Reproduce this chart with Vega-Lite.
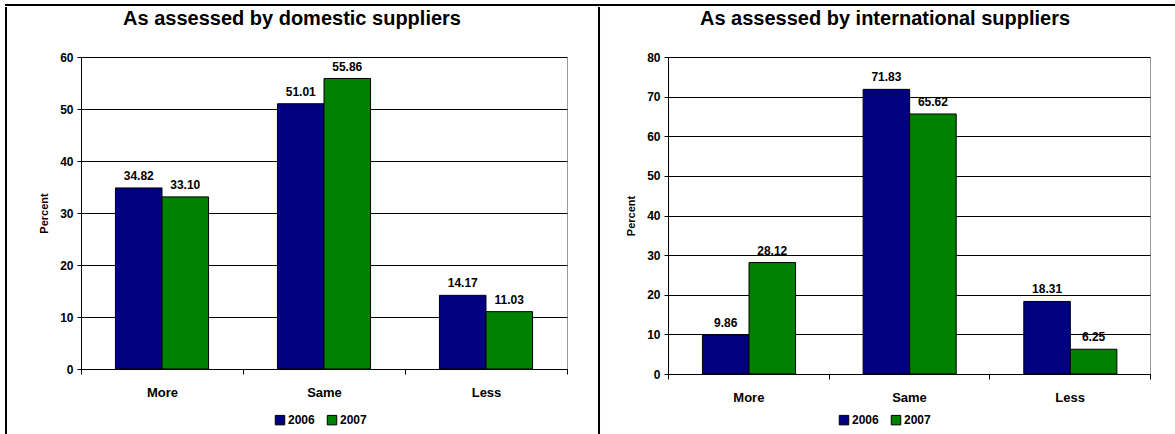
{
  "$schema": "https://vega.github.io/schema/vega-lite/v6.json",
  "padding": {"left": 5, "top": 4, "right": 0, "bottom": 0},
  "background": "white",
  "spacing": 0,
  "config": {
    "font": "Liberation Sans",
    "axis": {
      "labelFont": "Liberation Sans",
      "labelFontWeight": "bold",
      "labelColor": "black",
      "titleFont": "Liberation Sans",
      "titleFontWeight": "bold",
      "titleColor": "black",
      "titleFontSize": 11,
      "domainColor": "black",
      "tickColor": "black"
    },
    "axisY": {"labelFontSize": 12, "tickSize": 4, "labelPadding": 4, "titlePadding": 10, "gridColor": "black", "gridOpacity": 1, "gridWidth": 1},
    "axisX": {"labelFontSize": 13, "tickSize": 5, "labelPadding": 12, "labelAngle": 0, "grid": false},
    "legend": {"labelFont": "Liberation Sans", "labelFontWeight": "bold", "labelFontSize": 12, "labelColor": "black", "symbolType": "square", "symbolSize": 90, "symbolStrokeColor": "black", "symbolStrokeWidth": 1, "columnPadding": 10, "labelOffset": 2, "title": null},
    "title": {"font": "Liberation Sans", "fontSize": 20, "fontWeight": "bold", "color": "black", "anchor": "middle", "orient": "bottom", "offset": 1}
  },
  "resolve": {"scale": {"color": "independent"}},
  "vconcat": [
    {
      "data": {"values": []},
      "mark": "point",
      "width": 1170,
      "height": 0.01,
      "view": {"stroke": "black", "strokeWidth": 2}
    },
    {
      "spacing": 24,
      "resolve": {"scale": {"color": "independent"}},
      "hconcat": [
        {
          "spacing": 30,
          "resolve": {"scale": {"color": "independent"}},
          "hconcat": [
            {
              "data": {"values": []},
              "mark": "point",
              "width": 0.01,
              "height": 430,
              "view": {"stroke": "black", "strokeWidth": 2}
            },
            {
              "spacing": 20,
              "resolve": {"scale": {"color": "independent"}},
              "vconcat": [
                {
                  "title": {"text": "As assessed by domestic suppliers", "dx": -32},
                  "data": {"values": []},
                  "mark": "point",
                  "width": 486,
                  "height": 0.01,
                  "view": {"stroke": null}
                },
                {
                  "width": 486,
                  "height": 312,
                  "view": {"stroke": "#999999", "strokeWidth": 1},
                  "data": {"values": [
                    {"response": "More", "year": "2006", "percent": 34.82},
                    {"response": "More", "year": "2007", "percent": 33.10},
                    {"response": "Same", "year": "2006", "percent": 51.01},
                    {"response": "Same", "year": "2007", "percent": 55.86},
                    {"response": "Less", "year": "2006", "percent": 14.17},
                    {"response": "Less", "year": "2007", "percent": 11.03}
                  ]},
                  "encoding": {
                    "x": {"field": "response", "type": "nominal", "sort": ["More", "Same", "Less"], "scale": {"paddingInner": 0, "paddingOuter": 0}, "axis": {"title": null, "tickBand": "extent"}},
                    "xOffset": {"field": "year", "type": "nominal", "scale": {"paddingInner": 0, "paddingOuter": 0.74}},
                    "y": {"field": "percent", "type": "quantitative", "scale": {"domain": [0, 60], "nice": false}, "axis": {"title": "Percent", "values": [0, 10, 20, 30, 40, 50, 60]}}
                  },
                  "layer": [
                    {
                      "mark": {"type": "bar", "stroke": "black", "strokeWidth": 1},
                      "encoding": {
                        "color": {"field": "year", "type": "nominal", "scale": {"domain": ["2006", "2007"], "range": ["#000080", "#008000"]},
                          "legend": {"orient": "none", "direction": "horizontal", "legendX": 193, "legendY": 357}}
                      }
                    },
                    {
                      "mark": {"type": "text", "baseline": "bottom", "dy": -5, "fontWeight": "bold", "fontSize": 12, "color": "black"},
                      "encoding": {"text": {"field": "percent", "type": "quantitative", "format": ".2f"}}
                    }
                  ]
                }
              ]
            },
            {
              "data": {"values": []},
              "mark": "point",
              "width": 0.01,
              "height": 430,
              "view": {"stroke": "black", "strokeWidth": 2}
            }
          ]
        },
        {
          "spacing": 20,
          "resolve": {"scale": {"color": "independent"}},
          "vconcat": [
            {
              "title": {"text": "As assessed by international suppliers", "dx": -24},
              "data": {"values": []},
              "mark": "point",
              "width": 482,
              "height": 0.01,
              "view": {"stroke": null}
            },
            {
              "width": 482,
              "height": 317,
              "view": {"stroke": "#999999", "strokeWidth": 1},
              "data": {"values": [
                {"response": "More", "year": "2006", "percent": 9.86},
                {"response": "More", "year": "2007", "percent": 28.12},
                {"response": "Same", "year": "2006", "percent": 71.83},
                {"response": "Same", "year": "2007", "percent": 65.62},
                {"response": "Less", "year": "2006", "percent": 18.31},
                {"response": "Less", "year": "2007", "percent": 6.25}
              ]},
              "encoding": {
                "x": {"field": "response", "type": "nominal", "sort": ["More", "Same", "Less"], "scale": {"paddingInner": 0, "paddingOuter": 0}, "axis": {"title": null, "tickBand": "extent"}},
                "xOffset": {"field": "year", "type": "nominal", "scale": {"paddingInner": 0, "paddingOuter": 0.74}},
                "y": {"field": "percent", "type": "quantitative", "scale": {"domain": [0, 80], "nice": false}, "axis": {"title": "Percent", "values": [0, 10, 20, 30, 40, 50, 60, 70, 80]}}
              },
              "layer": [
                {
                  "mark": {"type": "bar", "stroke": "black", "strokeWidth": 1},
                  "encoding": {
                    "color": {"field": "year", "type": "nominal", "scale": {"domain": ["2006", "2007"], "range": ["#000080", "#008000"]},
                      "legend": {"orient": "none", "direction": "horizontal", "legendX": 170, "legendY": 357}}
                  }
                },
                {
                  "mark": {"type": "text", "baseline": "bottom", "dy": -5, "fontWeight": "bold", "fontSize": 12, "color": "black"},
                  "encoding": {"text": {"field": "percent", "type": "quantitative", "format": ".2f"}}
                }
              ]
            }
          ]
        }
      ]
    }
  ]
}
